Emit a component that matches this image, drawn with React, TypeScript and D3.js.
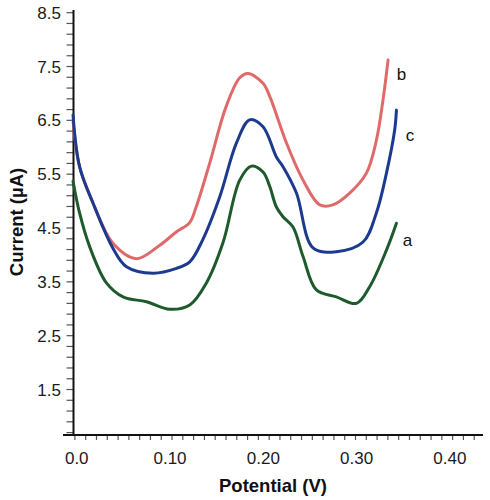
import React from "react";
import * as d3 from "d3";

const W = 490;
const H = 500;

const xTickLabels = ["0.0", "0.10", "0.20", "0.30", "0.40"];
const xTickValues = [0, 0.1, 0.2, 0.3, 0.4];
const yTickLabels = ["8.5", "7.5", "6.5", "5.5", "4.5", "3.5", "2.5", "1.5"];
const yTickValues = [8.5, 7.5, 6.5, 5.5, 4.5, 3.5, 2.5, 1.5];

const seriesNames = ["b", "c", "a"];
const seriesColors = ["#e06a6a", "#1c3a8e", "#1e5a2c"];

const bX = [-0.004, 0.003, 0.0175, 0.0386, 0.064, 0.089, 0.107, 0.121, 0.128, 0.1426, 0.16, 0.1747, 0.1836, 0.1997, 0.207, 0.2248, 0.2426, 0.2605, 0.2744, 0.2926, 0.3105, 0.3212, 0.3283, 0.3337];
const bY = [6.5, 5.64, 4.96, 4.22, 3.93, 4.18, 4.43, 4.6, 4.89, 5.71, 6.75, 7.29, 7.37, 7.19, 6.94, 6.08, 5.39, 4.93, 4.93, 5.15, 5.52, 6.13, 6.88, 7.62];

const cX = [-0.004, 0.003, 0.0175, 0.0386, 0.0533, 0.0818, 0.1069, 0.1211, 0.135, 0.1533, 0.1712, 0.1854, 0.1997, 0.214, 0.2211, 0.2355, 0.2533, 0.2783, 0.3069, 0.3212, 0.332, 0.3408, 0.3427];
const cY = [6.6, 5.64, 4.96, 4.13, 3.78, 3.66, 3.75, 3.87, 4.28, 5.08, 6.08, 6.51, 6.38, 5.82, 5.64, 5.15, 4.13, 4.06, 4.24, 4.78, 5.52, 6.32, 6.69];

const aX = [-0.004, 0.003, 0.0139, 0.0318, 0.0496, 0.0747, 0.0997, 0.1211, 0.139, 0.1568, 0.1747, 0.1872, 0.1997, 0.2069, 0.214, 0.2211, 0.2318, 0.2426, 0.2569, 0.2783, 0.2998, 0.314, 0.332, 0.3427];
const aY = [5.37, 4.78, 4.15, 3.48, 3.22, 3.13, 2.99, 3.07, 3.48, 4.23, 5.39, 5.65, 5.54, 5.27, 4.89, 4.71, 4.52, 3.97, 3.35, 3.22, 3.1, 3.41, 4.09, 4.59];

const seriesX = [bX, cX, aX];
const seriesY = [bY, cY, aY];

export default function App() {
  const x = d3.scaleLinear().domain([-0.0035, 0.4355]).range([73.5, 483]);
  const y = d3.scaleLinear().domain([0.655, 8.55]).range([435, 10]);

  const line = d3
    .line<[number, number]>()
    .x((d) => x(d[0]))
    .y((d) => y(d[1]))
    .curve(d3.curveCatmullRom.alpha(0.5));

  const yMinor = d3.range(0.7, 8.55, 0.2);
  const xMinor = d3.range(-0.002, 0.434, 0.01157);

  const font = "Liberation Sans, Arial, sans-serif";

  return (
    <div style={{ position: "fixed", left: 0, top: 0 }}>
      <svg width={W} height={H} style={{ display: "block", background: "#fff" }}>
        <rect width={W} height={H} fill="#fff" />
        {yMinor.map((v, i) => (
          <line key={"ym" + i} x1={66.5} x2={73.5} y1={y(v)} y2={y(v)} stroke="#555" strokeWidth={1.2} />
        ))}
        {xMinor.map((v, i) => (
          <line key={"xm" + i} x1={x(v)} x2={x(v)} y1={435} y2={440} stroke="#555" strokeWidth={1.2} />
        ))}
        <line x1={73.5} x2={73.5} y1={10} y2={436} stroke="#111" strokeWidth={2} />
        <line x1={63} x2={483} y1={435} y2={435} stroke="#111" strokeWidth={2} />
        {yTickValues.map((v, i) => (
          <text key={"yl" + i} x={61} y={y(v)} dy="0.36em" textAnchor="end" fontFamily={font} fontSize={17} fill="#1a1a1a">
            {yTickLabels[i]}
          </text>
        ))}
        {xTickValues.map((v, i) => (
          <text key={"xl" + i} x={x(v)} y={464} textAnchor="middle" fontFamily={font} fontSize={17} fill="#1a1a1a">
            {xTickLabels[i]}
          </text>
        ))}
        <text x={273} y={492} textAnchor="middle" fontFamily={font} fontSize={18.5} fontWeight="bold" fill="#111">
          Potential (V)
        </text>
        <text transform="translate(23,222) rotate(-90)" textAnchor="middle" fontFamily={font} fontSize={18.5} fontWeight="bold" fill="#111">
          Current (µA)
        </text>
        {seriesNames.map((name, si) => {
          const pts: [number, number][] = seriesX[si].map((xv, j) => [xv, seriesY[si][j]]);
          return (
            <path key={name} d={line(pts) || ""} fill="none" stroke={seriesColors[si]} strokeWidth={3} strokeLinejoin="round" strokeLinecap="round" />
          );
        })}
        {seriesNames.map((name, si) => {
          const xs = seriesX[si];
          const ys = seriesY[si];
          const lx = x(xs[xs.length - 1]);
          const ly = y(ys[ys.length - 1]);
          const off = si === 0 ? [13.5, 13.5] : si === 1 ? [13.5, 25] : [11, 17];
          return (
            <text key={"lab" + name} x={lx + off[0]} y={ly + off[1]} dy="0.35em" textAnchor="middle" fontFamily={font} fontSize={17} fill="#111">
              {name}
            </text>
          );
        })}
      </svg>
    </div>
  );
}
